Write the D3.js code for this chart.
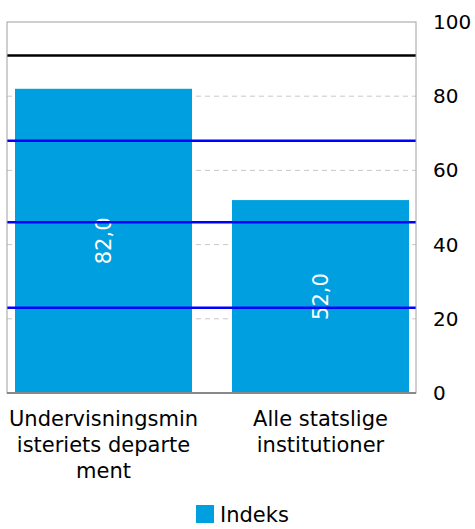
<!DOCTYPE html>
<html>
<head>
<meta charset="utf-8">
<script src="https://cdnjs.cloudflare.com/ajax/libs/d3/7.8.5/d3.min.js"></script>
<style>
  body { margin: 0; background: #fff; }
  text { font-family: "DejaVu Sans", Verdana, sans-serif; }
</style>
</head>
<body>
<div id="chart"></div>
<script>
// categories and their wrapped tick labels
var categories = ["Undervisningsministeriets departement", "Alle statslige institutioner"];
var tickLabels = [["Undervisningsmin", "isteriets departe", "ment"], ["Alle statslige", "institutioner"]];
var values = [82.0, 52.0];
var seriesName = "Indeks";

// y axis ticks
var yTicks = [0, 20, 40, 60, 80, 100];

// reference lines drawn across the plot
var blackLines = [91];
var blueLines = [68, 46, 23];

var width = 475, height = 529;
var plot = { left: 7, right: 416, top: 22, bottom: 393 };

var svg = d3.select("#chart").append("svg")
    .attr("width", width)
    .attr("height", height);

var y = d3.scaleLinear().domain([0, 100]).range([plot.bottom, plot.top]);

var x = d3.scaleBand()
    .domain(categories)
    .range([15, 409])
    .paddingInner(40 / 217)
    .paddingOuter(0);

// gridlines (dashed)
svg.append("g")
  .selectAll("line")
  .data(yTicks.filter(function(d) { return d > 0 && d < 100; }))
  .enter().append("line")
    .attr("x1", plot.left).attr("x2", plot.right)
    .attr("y1", function(d) { return y(d); })
    .attr("y2", function(d) { return y(d); })
    .attr("stroke", "#c8c8c8")
    .attr("stroke-dasharray", "5,4");

// bars
svg.append("g")
  .selectAll("rect")
  .data(values)
  .enter().append("rect")
    .attr("x", function(d, i) { return x(categories[i]); })
    .attr("y", function(d) { return y(d); })
    .attr("width", x.bandwidth())
    .attr("height", function(d) { return y(0) - y(d); })
    .attr("fill", "#009fdf");

// bar value labels, rotated
svg.append("g")
  .selectAll("text")
  .data(values)
  .enter().append("text")
    .attr("transform", function(d, i) {
        var cx = x(categories[i]) + x.bandwidth() / 2;
        var cy = (y(d) + y(0)) / 2;
        return "translate(" + cx + "," + cy + ") rotate(-90)";
    })
    .attr("text-anchor", "middle")
    .attr("dy", "0.35em")
    .attr("fill", "#fff")
    .style("font-size", "21px")
    .text(function(d) { return d.toFixed(1).replace(".", ","); });

// reference lines
svg.append("g")
  .selectAll("line")
  .data(blueLines)
  .enter().append("line")
    .attr("x1", plot.left).attr("x2", plot.right)
    .attr("y1", function(d) { return y(d); })
    .attr("y2", function(d) { return y(d); })
    .attr("stroke", "#0000ff")
    .attr("stroke-width", 2.5);

svg.append("g")
  .selectAll("line")
  .data(blackLines)
  .enter().append("line")
    .attr("x1", plot.left).attr("x2", plot.right)
    .attr("y1", function(d) { return y(d); })
    .attr("y2", function(d) { return y(d); })
    .attr("stroke", "#000")
    .attr("stroke-width", 2.5);

// plot frame
svg.append("rect")
    .attr("x", plot.left).attr("y", plot.top)
    .attr("width", plot.right - plot.left)
    .attr("height", plot.bottom - plot.top)
    .attr("fill", "none")
    .attr("stroke", "#a0a0a0");

svg.append("line")
    .attr("x1", plot.left).attr("x2", plot.right)
    .attr("y1", plot.bottom).attr("y2", plot.bottom)
    .attr("stroke", "#888")
    .attr("stroke-width", 2);

// right y axis
var yAxis = d3.axisRight(y).tickValues(yTicks).tickSize(0).tickPadding(17);
var ya = svg.append("g")
    .attr("transform", "translate(" + plot.right + ",0)")
    .call(yAxis);
ya.select(".domain").remove();
ya.selectAll("text")
    .style("font-size", "20px")
    .style("font-family", "'DejaVu Sans', Verdana, sans-serif")
    .attr("fill", "#000");

// x axis labels (wrapped)
var xl = svg.append("g")
  .selectAll("text")
  .data(categories)
  .enter().append("text")
    .attr("text-anchor", "middle")
    .attr("x", function(d) { return x(d) + x.bandwidth() / 2; })
    .attr("y", 426)
    .style("font-size", "21px")
    .attr("fill", "#000");

xl.each(function(d, i) {
    var t = d3.select(this);
    tickLabels[i].forEach(function(line, j) {
        t.append("tspan")
            .attr("x", x(d) + x.bandwidth() / 2)
            .attr("dy", j === 0 ? 0 : 26)
            .text(line);
    });
});

// legend (kept just inside the bottom edge)
var legend = svg.append("g").attr("transform", "translate(196,505)");
legend.append("rect")
    .attr("width", 18).attr("height", 18)
    .attr("fill", "#009fdf");
legend.append("text")
    .attr("x", 24).attr("y", 17)
    .style("font-size", "21px")
    .attr("fill", "#000")
    .text(seriesName);
</script>
</body>
</html>
